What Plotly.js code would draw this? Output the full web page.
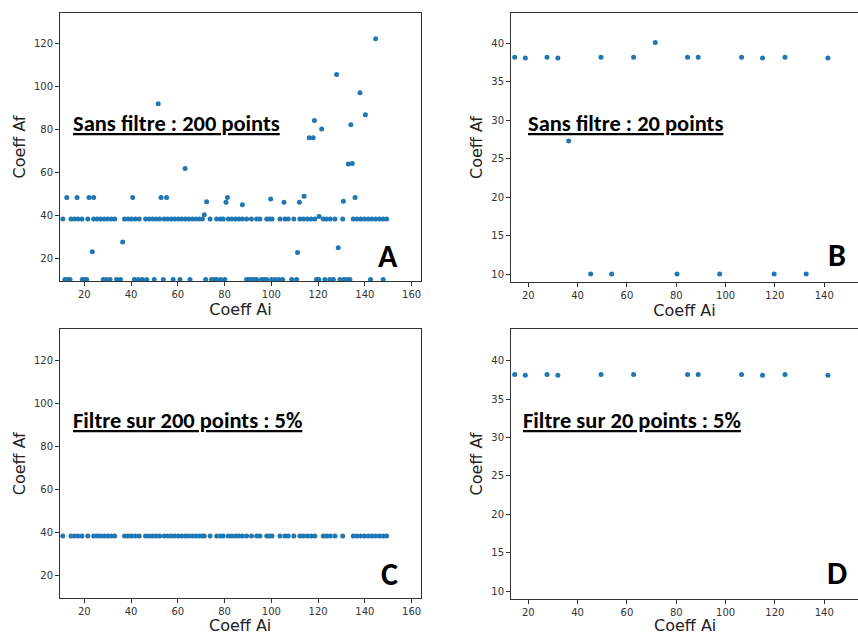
<!DOCTYPE html>
<html>
<head>
<meta charset="utf-8">
<script src="https://cdn.plot.ly/plotly-3.0.1.min.js"></script>
<style>html,body{margin:0;padding:0;background:#fff;}#chart{width:858px;height:634px;}</style>
</head>
<body>
<div id="chart"></div>
<script>
// ---------- Panel A : Sans filtre, 200 points ----------
const aX = [
  // row ~38
  10.8, 14.3, 15.8, 17.3, 19, 21.5, 24, 25.5, 27, 28.5, 30, 31.5, 33, 37.2, 38.7, 40.2, 41.8, 43.5,
  46.2, 47.7, 49.2, 50.7, 52.2, 54.2, 55.7, 57.2, 58.7, 60.2, 61.7, 63.2, 64.7, 66.2, 67.7, 69.2, 70.5,
  73.8, 76.6, 78.2, 79.4, 81.6, 83.1, 84.6, 86.1, 87.6, 89.4, 91.5, 93.7, 95.1, 98, 99.2, 100.3,
  103.7, 105.8, 107.2, 109.6, 112.2, 113.8, 115.4, 117, 118.6, 122.2, 123.6, 125.2, 127.2, 130.5,
  135, 136.6, 138.2, 139.8, 141.4, 143, 144.6, 146.2, 147.8, 149.3,
  // row ~10
  11.7, 12.8, 13.9, 19.1, 20.1, 21, 28.1, 29.5, 31, 33.8, 35.5, 41.4, 43.1, 44.8, 46.7, 49.9, 53.8,
  58, 60.9, 65.2, 71.9, 74.4, 75.5, 76.6, 78.3, 80.1, 89.4, 90.5, 91.6, 92.7, 93.7, 95.8, 97, 98,
  100.1, 101.6, 103.2, 104.8, 108.7, 110.8, 119.3, 120.3, 122.9, 125, 126.5, 129.3, 131, 132.3,
  133.6, 142.4, 147.8,
  // row ~48 and around
  12.5, 16.9, 22, 24, 40.7, 52.8, 55.2, 81.2, 114, 135.8,
  71.3, 120.4, 72.3, 80.6, 87.6, 99.7, 105.4, 112, 130.8,
  // outliers
  23.4, 36.4, 51.6, 63.1, 111.2, 128.6, 116.2, 117.9, 118.4, 121.5, 127.9, 132.9, 134.6, 134,
  137.9, 140.2, 144.6
];
const aY = [
  38.2, 38.2, 38.2, 38.2, 38.2, 38.2, 38.2, 38.2, 38.2, 38.2, 38.2, 38.2, 38.2, 38.2, 38.2, 38.2, 38.2, 38.2,
  38.2, 38.2, 38.2, 38.2, 38.2, 38.2, 38.2, 38.2, 38.2, 38.2, 38.2, 38.2, 38.2, 38.2, 38.2, 38.2, 38.2,
  38.2, 38.2, 38.2, 38.2, 38.2, 38.2, 38.2, 38.2, 38.2, 38.2, 38.2, 38.2, 38.2, 38.2, 38.2, 38.2,
  38.2, 38.2, 38.2, 38.2, 38.2, 38.2, 38.2, 38.2, 38.2, 38.2, 38.2, 38.2, 38.2, 38.2,
  38.2, 38.2, 38.2, 38.2, 38.2, 38.2, 38.2, 38.2, 38.2, 38.2,
  10, 10, 10, 10, 10, 10, 10, 10, 10, 10, 10, 10, 10, 10, 10, 10, 10,
  10, 10, 10, 10, 10, 10, 10, 10, 10, 10, 10, 10, 10, 10, 10, 10, 10,
  10, 10, 10, 10, 10, 10, 10, 10, 10, 10, 10, 10, 10, 10,
  10, 10, 10,
  48.1, 48.1, 48.1, 48.1, 48.1, 48.1, 48.1, 48.1, 48.7, 48.1,
  40.1, 39.3, 46.2, 45.9, 44.8, 47.4, 46, 46, 46.4,
  22.9, 27.4, 91.8, 61.7, 22.6, 24.8, 76, 76, 84, 80, 105.4, 63.7, 64, 82,
  96.9, 86.7, 122
];

// ---------- Panel B : Sans filtre, 20 points ----------
const bX = [14.5, 18.8, 27.6, 32, 49.5, 62.7, 84.6, 88.9, 106.5, 115, 124.1, 141.5,
            71.5, 36.4, 45.3, 53.8, 80.3, 97.6, 119.7, 132.7];
const bY = [38.2, 38.1, 38.2, 38.1, 38.2, 38.2, 38.2, 38.2, 38.2, 38.1, 38.2, 38.1,
            40.1, 27.3, 10, 10, 10, 10, 10, 10];

// ---------- Panel C : Filtre sur 200 points, 5% ----------
const cX = [
  10.8, 14.3, 15.8, 17.3, 19, 21.5, 24, 25.5, 27, 28.5, 30, 31.5, 33, 37.2, 38.7, 40.2, 41.8, 43.5,
  46.2, 47.7, 49.2, 50.7, 52.2, 54.2, 55.7, 57.2, 58.7, 60.2, 61.7, 63.2, 64.7, 66.2, 67.7, 69.2, 70.5, 71.3,
  73.8, 76.6, 78.2, 79.4, 81.6, 83.1, 84.6, 86.1, 87.6, 89.4, 91.5, 93.7, 95.1, 98, 99.2, 100.3,
  103.7, 105.8, 107.2, 109.6, 112.2, 113.8, 115.4, 117, 118.6, 122.2, 123.6, 125.2, 127.2, 130.5,
  135, 136.6, 138.2, 139.8, 141.4, 143, 144.6, 146.2, 147.8, 149.3
];
const cY = [
  38.2, 38.2, 38.2, 38.2, 38.2, 38.2, 38.2, 38.2, 38.2, 38.2, 38.2, 38.2, 38.2, 38.2, 38.2, 38.2, 38.2, 38.2,
  38.2, 38.2, 38.2, 38.2, 38.2, 38.2, 38.2, 38.2, 38.2, 38.2, 38.2, 38.2, 38.2, 38.2, 38.2, 38.2, 38.2, 38.2,
  38.2, 38.2, 38.2, 38.2, 38.2, 38.2, 38.2, 38.2, 38.2, 38.2, 38.2, 38.2, 38.2, 38.2, 38.2, 38.2,
  38.2, 38.2, 38.2, 38.2, 38.2, 38.2, 38.2, 38.2, 38.2, 38.2, 38.2, 38.2, 38.2, 38.2,
  38.2, 38.2, 38.2, 38.2, 38.2, 38.2, 38.2, 38.2, 38.2, 38.2
];

// ---------- Panel D : Filtre sur 20 points, 5% ----------
const dX = [14.5, 18.8, 27.6, 32, 49.5, 62.7, 84.6, 88.9, 106.5, 115, 124.1, 141.5];
const dY = [38.2, 38.1, 38.2, 38.1, 38.2, 38.2, 38.2, 38.2, 38.2, 38.1, 38.2, 38.1];

const panelLabels = ["Sans filtre : 200 points", "Sans filtre : 20 points",
                     "Filtre sur 200 points : 5%", "Filtre sur 20 points : 5%"];
const panelLetters = ["A", "B", "C", "D"];
const xTitle = "Coeff Ai";
const yTitle = "Coeff Af";

const W = 858, H = 634;
const px = v => v / W;
const py = v => 1 - v / H;

const blue = '#1f77b4';
function tr(x, y, xa, ya) {
  return {x: x, y: y, xaxis: xa, yaxis: ya, type: 'scatter', mode: 'markers',
          marker: {color: blue, size: 5}, cliponaxis: false, hoverinfo: 'x+y'};
}
const data = [
  tr(aX, aY, 'x', 'y'),
  tr(bX, bY, 'x2', 'y2'),
  tr(cX, cY, 'x3', 'y3'),
  tr(dX, dY, 'x4', 'y4')
];

const tickFont = {family: 'DejaVu Sans', size: 10, color: '#333'};
const titleFont = {family: 'DejaVu Sans', size: 16, color: '#222'};
function xax(domain, range, dtick, anchor, withTitle) {
  const ax = {domain: domain, range: range, anchor: anchor, dtick: dtick, tick0: 0,
          showgrid: false, zeroline: false, showline: true, linecolor: '#333', linewidth: 1,
          mirror: true, ticks: 'outside', ticklen: 4, tickcolor: '#333', tickfont: tickFont,
          automargin: false};
  if (withTitle) ax.title = {text: xTitle, font: titleFont, standoff: 2};
  return ax;
}
function yax(domain, range, dtick, anchor, mirror) {
  return {domain: domain, range: range, anchor: anchor, dtick: dtick, tick0: 0,
          showgrid: false, zeroline: false, showline: true, linecolor: '#333', linewidth: 1,
          mirror: mirror, ticks: 'outside', ticklen: 4, tickcolor: '#333', tickfont: tickFont,
          title: {text: yTitle, font: titleFont, standoff: 4}, automargin: false};
}

const labFont = {family: 'Carlito, Calibri, Lato, sans-serif', size: 22.5, color: '#000'};
const letFont = {family: 'Carlito, Calibri, Lato, sans-serif', size: 32, color: '#000'};
function lab(text, x, y) {
  return {xref: 'paper', yref: 'paper', x: px(x), y: py(y), xanchor: 'left', yanchor: 'middle',
          text: '<b><u>' + text + '</u></b>', showarrow: false, font: labFont};
}
function letter(text, x, y) {
  return {xref: 'paper', yref: 'paper', x: px(x), y: py(y), xanchor: 'center', yanchor: 'middle',
          text: '<b>' + text + '</b>', showarrow: false, font: letFont};
}
// bottom-row x-axis titles (placed as annotations so they can sit at the page edge)
function xTitleAnn(xref, y) {
  return {xref: xref + ' domain', yref: 'paper', x: 0.5, y: py(y), xanchor: 'center', yanchor: 'middle',
          text: xTitle, showarrow: false, font: titleFont};
}

const layout = {
  width: W, height: H,
  margin: {l: 0, r: 0, t: 0, b: 0},
  paper_bgcolor: '#fff', plot_bgcolor: '#fff',
  showlegend: false,
  xaxis:  xax([px(60), px(421)], [9.6, 164], 20, 'y', true),
  yaxis:  yax([py(281), py(13)], [9.3, 134], 20, 'x', true),
  xaxis2: xax([px(511), 1], [13.0, 153.7], 20, 'y2', true),
  yaxis2: yax([py(282), py(13)], [8.96, 43.94], 5, 'x2', false),
  xaxis3: xax([px(60), px(421)], [9.6, 164], 20, 'y3', false),
  yaxis3: yax([py(598.3), py(329.3)], [9.3, 134.3], 20, 'x3', true),
  xaxis4: xax([px(511), 1], [13.0, 153.7], 20, 'y4', false),
  yaxis4: yax([py(598.7), py(329.3)], [9.04, 44.08], 5, 'x4', false),
  annotations: [
    lab(panelLabels[0], 71, 123),
    lab(panelLabels[1], 526, 123),
    lab(panelLabels[2], 71, 420),
    lab(panelLabels[3], 521, 420),
    letter(panelLetters[0], 388, 257),
    letter(panelLetters[1], 837, 256),
    letter(panelLetters[2], 389, 574),
    letter(panelLetters[3], 837, 573),
    xTitleAnn('x3', 625),
    xTitleAnn('x4', 625)
  ]
};

Plotly.newPlot('chart', data, layout, {staticPlot: true, displayModeBar: false});
</script>
</body>
</html>
